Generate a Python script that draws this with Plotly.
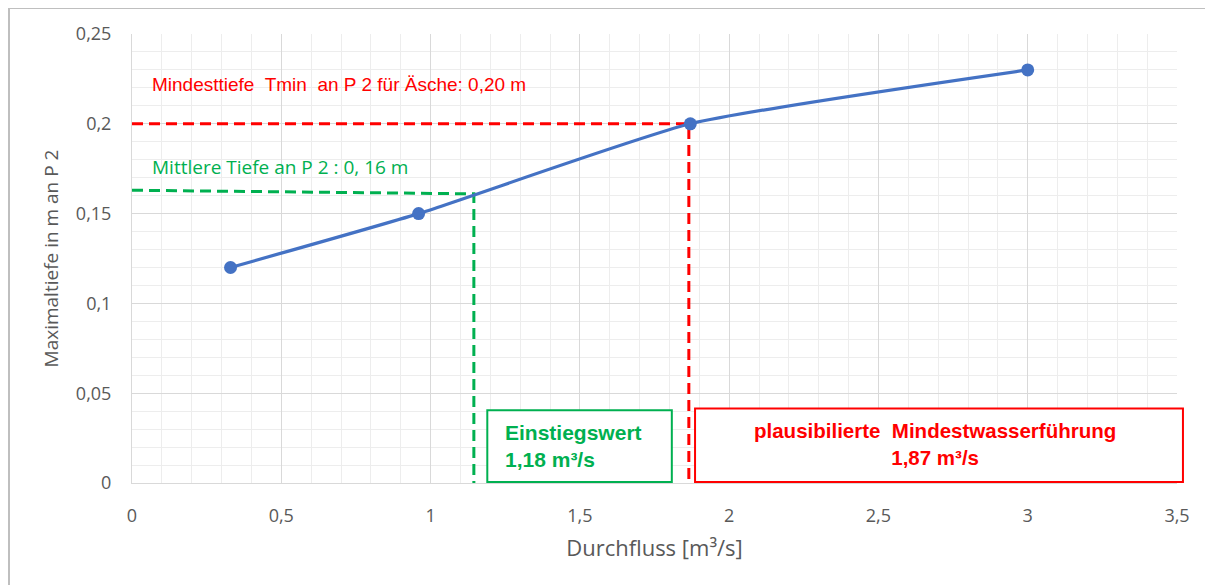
import plotly.graph_objects as go

# data
durchfluss = [0.33, 0.96, 1.87, 3.0]
tiefe = [0.12, 0.15, 0.20, 0.23]

tmin_q = 1.865
tmin_t = 0.20
mittel_q = 1.145
mittel_t_start = 0.163
mittel_t_end = 0.161

x_ticks = [0, 0.5, 1, 1.5, 2, 2.5, 3, 3.5]
x_tick_labels = ["0", "0,5", "1", "1,5", "2", "2,5", "3", "3,5"]
y_ticks = [0, 0.05, 0.1, 0.15, 0.2, 0.25]
y_tick_labels = ["0", "0,05", "0,1", "0,15", "0,2", "0,25"]

GREEN = "#00B050"
RED = "#FF0000"
BLUE = "#4472C4"
GRAY = "#595959"

fig = go.Figure()

# dashed reference lines
fig.add_trace(go.Scatter(x=[0, mittel_q, mittel_q], y=[mittel_t_start, mittel_t_end, 0],
                         mode="lines", line=dict(color=GREEN, width=3, dash="11px,6px"),
                         hoverinfo="skip", showlegend=False))
fig.add_trace(go.Scatter(x=[0, tmin_q, tmin_q], y=[tmin_t, tmin_t, 0],
                         mode="lines", line=dict(color=RED, width=3, dash="11px,6px"),
                         hoverinfo="skip", showlegend=False))

# main curve
fig.add_trace(go.Scatter(x=durchfluss, y=tiefe, mode="lines+markers",
                         line=dict(color=BLUE, width=3.2, shape="spline", smoothing=0.5),
                         marker=dict(color=BLUE, size=13),
                         showlegend=False))

# boxes
fig.add_shape(type="rect", xref="x", yref="y", x0=1.19, x1=1.808, y0=0.0005, y1=0.0405,
              line=dict(color=GREEN, width=2), fillcolor="white", layer="above")
fig.add_shape(type="rect", xref="paper", yref="y", x0=0.5388, x1=1.0057, y0=0.0005, y1=0.0415,
              line=dict(color=RED, width=2), fillcolor="white", layer="above")

# frame (gray lines at top and left)
fig.add_shape(type="line", xref="paper", yref="paper", x0=-0.1177, x1=1.05, y0=1.058, y1=1.058,
              line=dict(color="#BFBFBF", width=2))
fig.add_shape(type="line", xref="paper", yref="paper", x0=-0.1177, x1=-0.1177, y0=-0.25, y1=1.058,
              line=dict(color="#BFBFBF", width=2))

fig.add_annotation(x=0.06, y=0.222, xref="x", yref="y", xanchor="left", yanchor="middle",
                   text="Mindesttiefe  Tmin  an P 2 für Äsche: 0,20 m", showarrow=False,
                   font=dict(family="Liberation Sans, Arial", size=19, color=RED))
fig.add_annotation(x=0.06, y=0.176, xref="x", yref="y", xanchor="left", yanchor="middle",
                   text="Mittlere Tiefe an P 2 : 0, 16 m", showarrow=False,
                   font=dict(family="Open Sans, Calibri", size=19, color=GREEN))
fig.add_annotation(x=1.243, y=0.0205, xref="x", yref="y", xanchor="left", yanchor="middle",
                   text="<b>Einstiegswert<br>1,18 m³/s</b>", showarrow=False, align="left",
                   font=dict(family="Liberation Sans, Arial", size=21, color=GREEN))
fig.add_annotation(x=2.69, y=0.0215, xref="x", yref="y", xanchor="center", yanchor="middle",
                   text="<b>plausibilierte  Mindestwasserführung<br>1,87 m³/s</b>", showarrow=False,
                   align="center",
                   font=dict(family="Liberation Sans, Arial", size=20.5, color=RED))

fig.update_layout(
    width=1213, height=585,
    margin=dict(l=124, r=44, t=26, b=110),
    paper_bgcolor="white", plot_bgcolor="white",
    font=dict(family="Open Sans, Segoe UI, sans-serif", color=GRAY, size=18),
    xaxis=dict(range=[0, 3.5], tickvals=x_ticks, ticktext=x_tick_labels,
               showgrid=True, gridcolor="#D9D9D9", gridwidth=1,
               minor=dict(dtick=0.1, showgrid=True, gridcolor="#EDEDED", gridwidth=1),
               zeroline=False, showline=True, linecolor="#D9D9D9",
               ticks="", ticklabelstandoff=16,
               title=dict(text="Durchfluss [m³/s]", font=dict(size=22, color=GRAY), standoff=15),
               tickfont=dict(size=18, color=GRAY)),
    yaxis=dict(range=[0, 0.25], tickvals=y_ticks, ticktext=y_tick_labels,
               showgrid=True, gridcolor="#D9D9D9", gridwidth=1,
               minor=dict(dtick=0.01, showgrid=True, gridcolor="#EDEDED", gridwidth=1),
               zeroline=False, showline=True, linecolor="#D9D9D9",
               ticks="", ticklabelstandoff=16,
               title=dict(text="Maximaltiefe in m an P 2", font=dict(size=19, color=GRAY), standoff=12),
               tickfont=dict(size=18, color=GRAY)),
)

fig.write_html("out.html")
